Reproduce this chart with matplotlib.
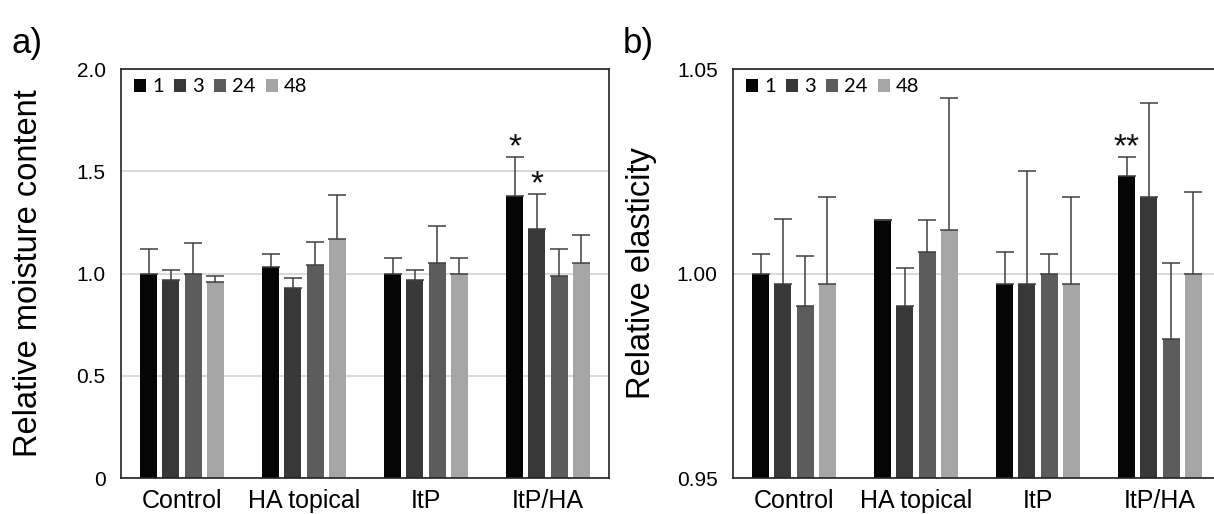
import matplotlib
matplotlib.use("Agg")
import matplotlib.pyplot as plt
import numpy as np

cats = ['Control', 'HA topical', 'ItP', 'ItP/HA']
hours = ['1', '3', '24', '48']
colors = ['#050505', '#383838', '#5c5c5c', '#a6a6a6']

# relative moisture content, one list per time point
moist = [
    [1.00, 1.03, 1.00, 1.38],
    [0.97, 0.93, 0.97, 1.22],
    [1.00, 1.04, 1.05, 0.99],
    [0.96, 1.17, 1.00, 1.05],
]
moist_err = [
    [0.12, 0.065, 0.077, 0.188],
    [0.046, 0.05, 0.046, 0.167],
    [0.15, 0.113, 0.183, 0.13],
    [0.03, 0.213, 0.077, 0.14],
]

# relative elasticity
elast = [
    [1.000, 1.0132, 0.9974, 1.0239],
    [0.9974, 0.992, 0.9974, 1.0186],
    [0.992, 1.0053, 1.000, 0.984],
    [0.9974, 1.0106, 0.9974, 1.000],
]
elast_err = [
    [0.0047, 0.0, 0.0079, 0.0047],
    [0.016, 0.0093, 0.0276, 0.0232],
    [0.0122, 0.0079, 0.0047, 0.0186],
    [0.0212, 0.0324, 0.0212, 0.020],
]

# significance marks: (series index, category index, text)
moist_sig = [(0, 3, '*'), (1, 3, '*')]
elast_sig = [(0, 3, '**')]

plt.rcParams['font.family'] = ['Liberation Sans', 'DejaVu Sans']

fig = plt.figure(figsize=(12.14, 5.14), dpi=100)
ax1 = fig.add_axes([121/1214, 36/514, 488/1214, 409/514])
ax2 = fig.add_axes([733/1214, 36/514, 488/1214, 409/514])

x = np.arange(len(cats))
width = 0.137
pitch = 0.183
offsets = (np.arange(4) - 1.5) * pitch


def draw(ax, vals, errs, base, sigs, sig_off):
    for i in range(4):
        v = np.array(vals[i])
        e = np.array(errs[i])
        ax.bar(x + offsets[i], v - base, width, bottom=base, color=colors[i],
               label=hours[i], zorder=2)
        ax.errorbar(x + offsets[i], v, yerr=[np.zeros_like(e), e], fmt='none',
                    ecolor='#404040', elinewidth=1.1, capsize=6.5,
                    capthick=1.1, zorder=3)
    for si, ci, t in sigs:
        top = vals[si][ci] + errs[si][ci]
        ax.text(x[ci] + offsets[si], top + sig_off, t, ha='center',
                va='center', fontsize=24, color='#111111')
    ax.set_xlim(-0.5, 3.5)
    ax.set_xticks(x)
    ax.set_xticklabels(cats, fontsize=18)
    ax.tick_params(axis='both', length=0)
    ax.tick_params(axis='x', pad=8)
    ax.tick_params(axis='y', pad=11, labelsize=15)
    ax.yaxis.grid(True, color='#d0d0d0', linewidth=1.1, zorder=0)
    ax.set_axisbelow(True)
    for s in ax.spines.values():
        s.set_color('#222222')
        s.set_linewidth(1.2)
    leg = ax.legend(ncol=4, loc='upper left', bbox_to_anchor=(0.027, 0.977),
                    frameon=False, borderpad=0, borderaxespad=0,
                    handlelength=0.6, handleheight=0.6, handletextpad=0.3,
                    columnspacing=0.5, prop={'family': 'Lato', 'size': 14.5})
    return leg


draw(ax1, moist, moist_err, 0.0, moist_sig, 0.045)
ax1.set_ylim(0, 2.0)
ax1.set_yticks([0, 0.5, 1.0, 1.5, 2.0])
ax1.set_yticklabels(['0', '0.5', '1.0', '1.5', '2.0'])
ax1.set_ylabel('Relative moisture content', fontsize=23.5)
ax1.yaxis.set_label_coords(-0.158, 0.5)

draw(ax2, elast, elast_err, 0.95, elast_sig, 0.0022)
ax2.set_ylim(0.95, 1.05)
ax2.set_yticks([0.95, 1.00, 1.05])
ax2.set_yticklabels(['0.95', '1.00', '1.05'])
ax2.set_ylabel('Relative elasticity', fontsize=23.5)
ax2.yaxis.set_label_coords(-0.156, 0.5)

fig.text(12/1214, 1 - 44/514, 'a)', fontsize=25, va='center', ha='left')
fig.text(623/1214, 1 - 44/514, 'b)', fontsize=25, va='center', ha='left')

fig.savefig('out.png', dpi=100)
